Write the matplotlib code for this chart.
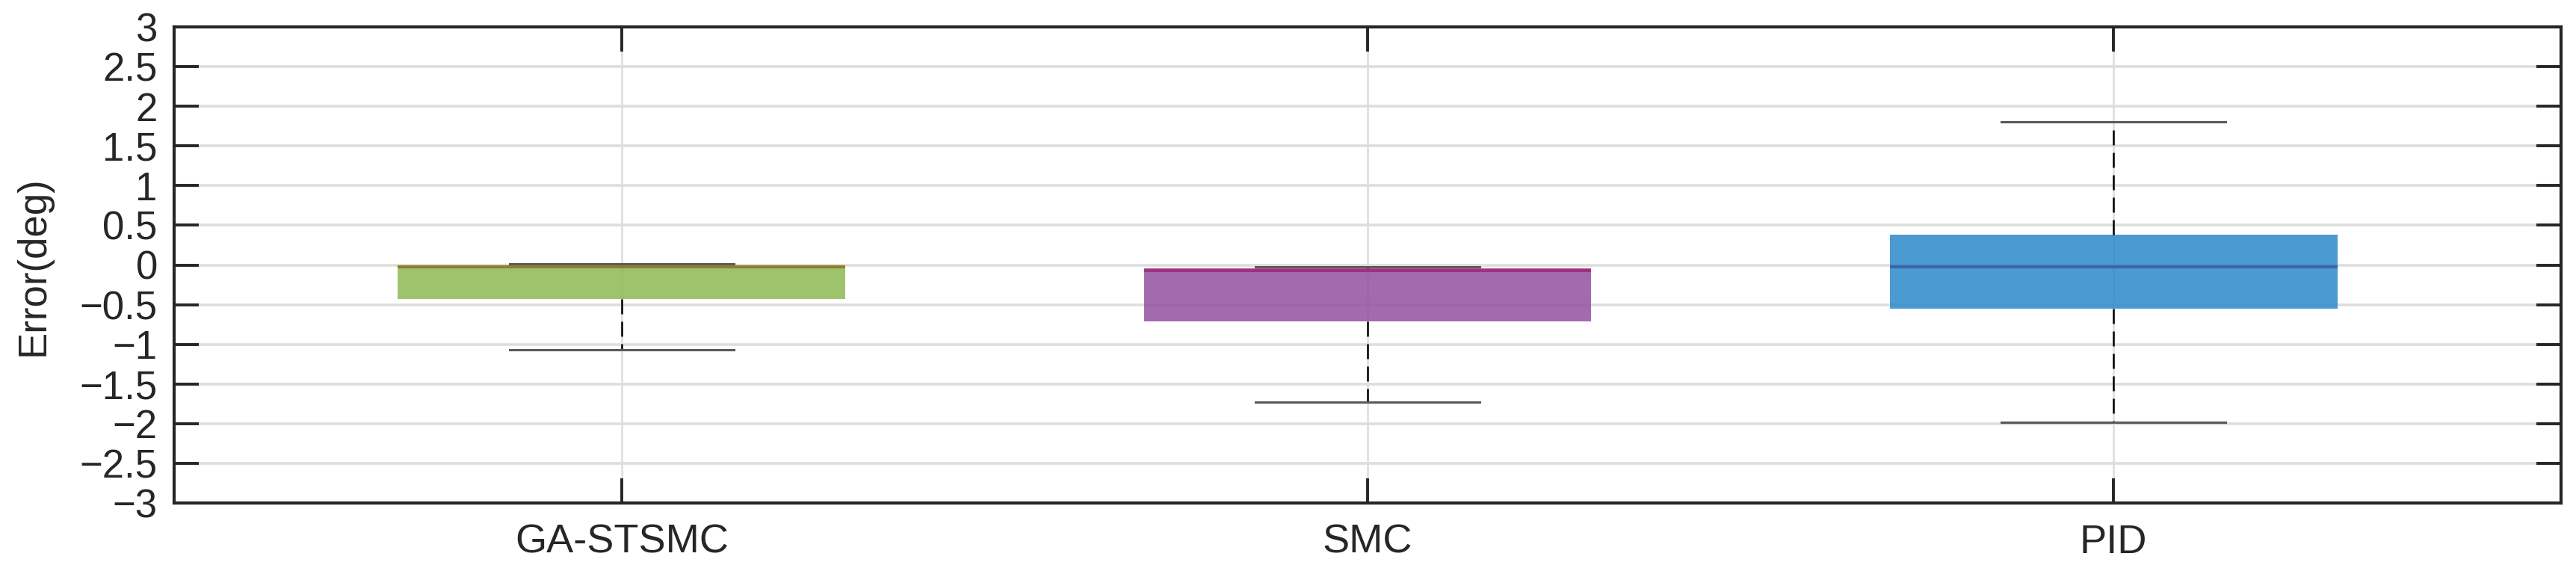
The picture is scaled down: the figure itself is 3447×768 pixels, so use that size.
import matplotlib
matplotlib.use("Agg")
import matplotlib.pyplot as plt

# ---- data ----
categories = ["GA-STSMC", "SMC", "PID"]
whisker_low = [-1.07, -1.73, -1.98]
q1_values = [-0.43, -0.71, -0.55]
medians = [-0.022, -0.075, -0.02]
q3_values = [-0.006, -0.04, 0.377]
whisker_high = [0.015, -0.025, 1.80]
y_ticks = [3, 2.5, 2, 1.5, 1, 0.5, 0, -0.5, -1, -1.5, -2, -2.5, -3]

box_colors = ["#8CBA53", "#93509F", "#2B89CB"]
median_colors = ["#8E7F2E", "#A2307F", "#3C64A8"]

plt.rcParams["font.family"] = ["Liberation Sans", "DejaVu Sans"]

W, H, DPI = 3448, 768, 200
fig = plt.figure(figsize=(W / DPI, H / DPI), dpi=DPI)
left, right, top, bottom = 233, 3427, 36, 673
ax = fig.add_axes([left / W, 1 - bottom / H, (right - left) / W, (bottom - top) / H])

positions = list(range(1, len(categories) + 1))
stats = []
for i, name in enumerate(categories):
    stats.append(dict(label=name, whislo=whisker_low[i], q1=q1_values[i],
                      med=medians[i], q3=q3_values[i], whishi=whisker_high[i],
                      fliers=[]))

bp = ax.bxp(stats, positions=positions, widths=0.6, capwidths=0.3,
            patch_artist=True, showfliers=False,
            whiskerprops=dict(color="black", linestyle=(0, (8, 4)), linewidth=0.9),
            capprops=dict(color="#5a5a5a", linewidth=1.1),
            medianprops=dict(linewidth=1.5),
            boxprops=dict(linewidth=0))
for patch, fc in zip(bp["boxes"], box_colors):
    patch.set_facecolor(fc)
    patch.set_alpha(0.85)
    patch.set_edgecolor("none")
for med, mc in zip(bp["medians"], median_colors):
    med.set_color(mc)

ax.set_xlim(0.4, 3.6)
ax.set_ylim(-3, 3)
ax.set_yticks(y_ticks)
ax.set_yticklabels([("\u2212" + f"{abs(v):g}") if v < 0 else f"{v:g}" for v in y_ticks])
ax.set_xticks(positions)
ax.set_xticklabels(categories)

ax.set_axisbelow(True)
ax.grid(True, axis="y", color="#dedede", linewidth=1.3)
ax.grid(True, axis="x", color="#e0e0e0", linewidth=1.0)

for s in ax.spines.values():
    s.set_linewidth(1.5)
    s.set_color("#262626")

ax.tick_params(axis="both", which="major", direction="in", length=12, width=1.4,
               color="#262626", top=True, right=True)
ax.tick_params(axis="y", labelsize=19, pad=8, labelcolor="#262626")
ax.tick_params(axis="x", labelsize=19.5, pad=10, labelcolor="#262626")

fig.text(45 / W, 1 - 356 / H, "Error(deg)", rotation=90, ha="center", va="center",
         fontsize=19, color="#262626")

fig.savefig("out.png", dpi=DPI, facecolor="white")
